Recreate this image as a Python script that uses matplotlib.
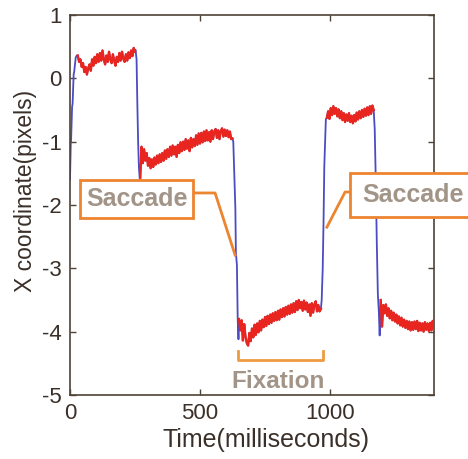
import numpy as np
import matplotlib
matplotlib.use('Agg')
import matplotlib.pyplot as plt
from matplotlib.patches import Rectangle

plt.rcParams['font.family'] = ['Liberation Sans', 'DejaVu Sans']
plt.rcParams['axes.unicode_minus'] = False

# fixation segments: start time (ms), 5 ms sampling, x position (pixels)
fix1_start = 30
fix1_x = [0.36, 0.26, 0.30, 0.18, 0.24, 0.10, 0.18, 0.06, 0.16, 0.22,
          0.12, 0.30, 0.20, 0.34, 0.24, 0.38, 0.26, 0.40, 0.28, 0.44,
          0.30, 0.22, 0.36, 0.26, 0.42, 0.30, 0.24, 0.38, 0.28, 0.20,
          0.34, 0.26, 0.40, 0.28, 0.42, 0.31, 0.26, 0.38, 0.28, 0.41,
          0.32, 0.44, 0.35, 0.48, 0.42]

fix2_start = 270
fix2_x = [-1.58, -1.08, -1.34, -1.12, -1.30, -1.18, -1.38, -1.26, -1.42, -1.28,
          -1.40, -1.25, -1.36, -1.22, -1.34, -1.20, -1.32, -1.18, -1.30, -1.14,
          -1.27, -1.12, -1.24, -1.08, -1.22, -1.06, -1.20, -1.08, -1.24, -1.05,
          -1.18, -1.01, -1.15, -1.00, -1.13, -0.96, -1.11, -0.98, -1.15, -0.94,
          -1.09, -0.96, -1.07, -0.90, -1.05, -0.87, -1.03, -0.86, -1.01, -0.84,
          -0.99, -0.82, -0.98, -0.85, -1.00, -0.82, -0.96, -0.84, -0.80, -0.94,
          -0.82, -0.96, -0.83, -0.79, -0.92, -0.81, -0.91, -0.82, -0.93, -0.84,
          -0.96, -0.95]

fix3_start = 650
fix3_x = [-3.80, -3.98, -3.82, -4.14, -3.88, -4.08, -4.18, -4.22, -4.02, -4.15,
          -3.95, -4.09, -3.89, -4.05, -3.87, -4.01, -3.83, -3.98, -3.81, -3.93,
          -3.77, -3.91, -3.75, -3.88, -3.73, -3.86, -3.71, -3.83, -3.69, -3.82,
          -3.67, -3.81, -3.65, -3.77, -3.63, -3.76, -3.61, -3.73, -3.59, -3.72,
          -3.57, -3.70, -3.55, -3.69, -3.52, -3.66, -3.50, -3.63, -3.53, -3.67,
          -3.51, -3.65, -3.54, -3.69, -3.57, -3.75, -3.55, -3.70, -3.57, -3.52,
          -3.68, -3.58, -3.68, -3.64]

fix4_start = 988
fix4_x = [-0.62, -0.52, -0.64, -0.47, -0.58, -0.44, -0.56, -0.47, -0.60, -0.49,
          -0.63, -0.52, -0.66, -0.55, -0.69, -0.57, -0.67, -0.55, -0.69, -0.59,
          -0.71, -0.58, -0.68, -0.54, -0.65, -0.52, -0.63, -0.50, -0.61, -0.48,
          -0.59, -0.46, -0.58, -0.44, -0.56, -0.43, -0.50]

fix5_start = 1195
fix5_x = [-3.50, -3.92, -3.58, -3.71, -3.57, -3.75, -3.63, -3.79, -3.67, -3.82,
          -3.70, -3.84, -3.73, -3.87, -3.76, -3.90, -3.78, -3.92, -3.81, -3.94,
          -3.83, -3.96, -3.84, -3.98, -3.85, -3.97, -3.84, -3.96, -3.83, -3.99,
          -3.86, -3.98, -3.87, -4.00, -3.85, -3.97, -3.87, -3.99, -3.86, -3.98,
          -3.83, -3.92]

# saccade samples between fixations
sac1_t = [0, 3, 4, 8, 10, 14, 16, 22, 26]
sac1_x = [-1.60, -1.02, -1.00, -0.45, -0.40, 0.06, 0.10, 0.33, 0.36]
sac2_t = [252, 256, 259, 262, 265, 268]
sac2_x = [0.45, 0.30, -0.40, -1.00, -1.40, -1.58]
sac3_t = [628, 632, 636, 638, 642, 645, 648]
sac3_x = [-1.00, -1.50, -2.05, -2.75, -2.95, -3.80, -4.12]
sac4_t = [968, 972, 975, 978, 981, 984]
sac4_x = [-3.50, -3.00, -2.30, -1.40, -1.00, -0.65]
sac5_t = [1172, 1176, 1180, 1184, 1188, 1191]
sac5_x = [-0.80, -1.60, -2.60, -3.40, -3.70, -4.06]

fixations = [(fix1_start, fix1_x), (fix2_start, fix2_x), (fix3_start, fix3_x),
             (fix4_start, fix4_x), (fix5_start, fix5_x)]
saccades = [(sac1_t, sac1_x), (sac2_t, sac2_x), (sac3_t, sac3_x),
            (sac4_t, sac4_x), (sac5_t, sac5_x)]

fix_series = [(start + 5 * np.arange(len(xs)), np.array(xs)) for start, xs in fixations]

# full trace: saccade then fixation, alternating
t_all, x_all = [], []
for (st, sx), (ft, fx) in zip(saccades, fix_series):
    t_all += list(st) + list(ft)
    x_all += list(sx) + list(fx)

BLUE = '#4b4bc4'
RED = '#e8251e'
ORANGE = '#ec8430'
BRACKET = '#ee9a40'
LABEL = '#a39488'
FRAME = '#4f4236'
TEXT = '#3a3029'

fig = plt.figure(figsize=(4.68, 4.59), dpi=100)
ax = fig.add_axes([70 / 468, 1 - 395 / 459, 364 / 468, 380 / 459])

ax.plot(t_all, x_all, color=BLUE, lw=1.3, zorder=2)
for ft, fx in fix_series:
    ax.plot(ft, fx, color=RED, lw=1.7, zorder=3)

ax.set_xlim(0, 1400)
ax.set_ylim(-5, 1)
ax.set_xticks([0, 500, 1000])
ax.set_yticks([-5, -4, -3, -2, -1, 0, 1])
ax.tick_params(direction='in', length=4, width=1, top=True, right=True,
               colors=FRAME, labelcolor=TEXT)
ax.tick_params(axis='x', pad=6)
ax.tick_params(axis='y', pad=6)
for lbl in ax.get_xticklabels() + ax.get_yticklabels():
    lbl.set_family(['Liberation Sans Narrow', 'Liberation Sans'])
    lbl.set_fontsize(16)
for sp in ax.spines.values():
    sp.set_color(FRAME)
    sp.set_linewidth(1.2)

ax.set_xlabel('Time(milliseconds)', fontsize=18, color=TEXT)
ax.xaxis.set_label_coords(0.538, -0.088)
ax.set_ylabel('X coordinate(pixels)', fontsize=16.5, color=TEXT)
ax.yaxis.set_label_coords(-0.091, 0.537)

# "Saccade" call-outs
ax.add_patch(Rectangle((38, -2.205), 435, 0.60, facecolor='white', edgecolor=ORANGE,
                       lw=2, clip_on=False, zorder=5))
ax.text(256, -1.905, 'Saccade', fontsize=18, fontweight='bold', color=LABEL,
        ha='center', va='center', zorder=6)
ax.plot([473, 558, 635], [-1.81, -1.81, -2.79], color=ORANGE, lw=2, clip_on=False,
        zorder=4)

ax.add_patch(Rectangle((1077, -2.19), 470, 0.695, facecolor='white', edgecolor=ORANGE,
                       lw=2, clip_on=False, zorder=5))
ax.text(1319, -1.84, 'Saccade', fontsize=18, fontweight='bold', color=LABEL,
        ha='center', va='center', zorder=6, clip_on=False)
ax.plot([1077, 1058, 988], [-1.795, -1.795, -2.35], color=ORANGE, lw=2, clip_on=False,
        zorder=4)

# fixation bracket
ax.plot([646, 646, 973, 973], [-4.31, -4.45, -4.45, -4.31], color=BRACKET, lw=2,
        zorder=4)
ax.text(802, -4.79, 'Fixation', fontsize=17.5, fontweight='bold', color=LABEL,
        ha='center', va='center', zorder=6)

fig.savefig('out.png', dpi=100)
